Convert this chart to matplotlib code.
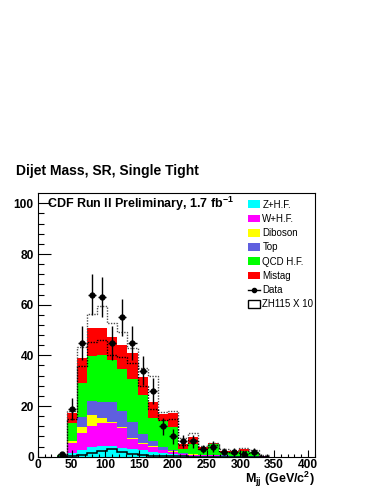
import numpy as np
import matplotlib
matplotlib.use('Agg')
import matplotlib.pyplot as plt
from matplotlib.patches import Patch
from matplotlib.lines import Line2D

plt.rcParams['font.family'] = ['Liberation Sans', 'DejaVu Sans']
plt.rcParams['mathtext.fontset'] = 'custom'
plt.rcParams['mathtext.rm'] = 'Liberation Sans'
plt.rcParams['mathtext.bf'] = 'Liberation Sans:bold'

# --- data (15 GeV bins starting at 27.5 GeV) ---
bin_start = 27.5
bin_width = 15.0
z_hf   = [0.1, 1.6, 2.8, 3.8, 4.2, 4.2, 3.4, 3.0, 2.5, 2.0, 1.5, 1.0, 0.5, 0.4, 0.3, 0.3, 0.2, 0.2, 0.1, 0.1, 0.0]
w_hf   = [0.2, 3.9, 6.7, 8.4, 9.0, 9.0, 7.9, 4.0, 2.7, 1.8, 1.1, 1.0, 0.4, 0.4, 0.3, 0.2, 0.2, 0.1, 0.2, 0.1, 0.1]
diboson = [0.0, 0.5, 2.3, 4.3, 2.0, 0.6, 0.5, 0.4, 0.4, 0.5, 0.2, 0.1, 0.1, 0.1, 0.0, 0.0, 0.0, 0.0, 0.0, 0.0, 0.0]
top    = [0.0, 0.3, 4.0, 5.6, 6.5, 7.7, 6.4, 6.1, 3.4, 1.7, 1.0, 0.7, 0.3, 0.2, 0.2, 0.2, 0.1, 0.1, 0.1, 0.1, 0.0]
qcd_hf = [0.2, 7.1, 13.4, 17.6, 18.5, 16.7, 16.3, 17.0, 15.3, 9.1, 10.2, 9.0, 1.7, 3.9, 1.8, 4.3, 1.2, 1.5, 2.0, 1.5, 0.2]
mistag = [0.3, 3.7, 9.9, 11.2, 10.7, 8.9, 9.6, 10.5, 7.0, 6.6, 2.8, 5.3, 2.2, 2.9, 1.3, 0.4, 0.6, 0.2, 0.8, 0.2, 0.1]
data   = [1, 19, 45, 64, 63, 45, 55, 45, 34, 26, 12, 8, 6, 6, 3, 4, 2, 2, 1, 2, 0]
zh115x10 = [0.0, 0.3, 0.8, 1.5, 2.2, 2.9, 1.9, 1.0, 0.5, 0.3, 0.2, 0.1, 0.1, 0.0, 0.0, 0.0, 0.0, 0.0, 0.0, 0.0, 0.0]
band_up = [0.6, 18.0, 43.4, 56.2, 59.5, 52.6, 49.3, 42.8, 35.0, 31.7, 17.8, 18.0, 7.3, 9.2, 4.3, 5.6, 3.0, 2.6, 3.5, 2.5, 0.5]
band_dn = [0.3, 15.0, 35.8, 45.4, 46.1, 40.0, 39.2, 37.0, 28.0, 19.0, 14.5, 15.0, 4.5, 6.5, 3.2, 4.5, 1.8, 1.6, 2.4, 1.5, 0.2]

names = ['Z+H.F.', 'W+H.F.', 'Diboson', 'Top', 'QCD H.F.', 'Mistag']
colors = ['#00ffff', '#ff00ff', '#ffff00', '#5f5fdf', '#00ff00', '#ff0000']
layers = [z_hf, w_hf, diboson, top, qcd_hf, mistag]

n = len(data)
edges = bin_start + bin_width * np.arange(n + 1)
centers = 0.5 * (edges[:-1] + edges[1:])

fig = plt.figure(figsize=(3.82, 4.94), dpi=100)
ax = fig.add_axes([38 / 382, 1 - 456.7 / 494, 277 / 382, 264 / 494])

# stacked backgrounds
base = np.zeros(n)
for vals, c in zip(layers, colors):
    t = base + np.array(vals)
    ax.stairs(t, edges, baseline=base, fill=True, color=c, lw=0)
    base = t

# uncertainty outline
ax.stairs(band_up, edges, baseline=None, color='0.3', ls=(0, (1, 1)), lw=1.0)
ax.stairs(band_dn, edges, baseline=None, color='black', ls=(0, (1, 1)), lw=1.0)

# signal
ax.stairs(zh115x10, edges, color='black', lw=1.1)

# data
d = np.array(data, dtype=float)
m = d > 0
ax.errorbar(centers[m], d[m], yerr=np.sqrt(d[m]), xerr=bin_width / 2 * 0.8,
            fmt='o', color='black', ms=3.5, lw=1.0, capsize=0)

ax.set_xlim(0, 410.5)
ax.set_ylim(0, 104.2)
ax.set_xticks(np.arange(0, 401, 50))
ax.set_xticks(np.arange(0, 411, 10), minor=True)
ax.set_yticks(np.arange(0, 101, 20))
ax.set_yticks(np.arange(0, 104, 4), minor=True)
ax.tick_params(which='both', direction='in', top=False, right=False,
               labelsize=8.6, width=0.8, colors='black')
ax.tick_params(axis='y', which='major', length=9, pad=3)
ax.tick_params(axis='y', which='minor', length=4.5)
ax.tick_params(axis='x', which='major', length=5, pad=1.5)
ax.tick_params(axis='x', which='minor', length=2.5)
for lab in ax.get_xticklabels() + ax.get_yticklabels():
    lab.set_fontweight('bold')
for s in ax.spines.values():
    s.set_linewidth(0.8)

ax.text(46.7 / 382, 1 - 204 / 494, r'CDF Run II Preliminary, 1.7 fb$^{\mathbf{-1}}$',
        transform=fig.transFigure, fontsize=9, fontweight='bold', va='center', ha='left')

fig.text(16 / 382, 1 - 170.7 / 494, 'Dijet Mass, SR, Single Tight',
         fontsize=10, fontweight='bold', va='center', ha='left')

fig.text(315 / 382, 1 - 479 / 494, r'$\mathbf{M_{jj}}$ (GeV/c$^{\mathbf{2}}$)',
         fontsize=9, fontweight='bold', va='center', ha='right')

handles = [Patch(facecolor=c, edgecolor='none') for c in colors]
handles.append(Line2D([], [], color='black', marker='o', ms=3, lw=1))
handles.append(Patch(facecolor='white', edgecolor='black', lw=1))
leg = ax.legend(handles, names + ['Data', 'ZH115 X 10'], loc='upper left',
                bbox_to_anchor=(248.3 / 382, 1 - 199.5 / 494),
                bbox_transform=fig.transFigure, frameon=False, fontsize=7,
                handlelength=1.23, handleheight=0.85, handletextpad=0.22,
                labelspacing=0.44, borderpad=0, borderaxespad=0)

fig.savefig('out.png', dpi=100)
